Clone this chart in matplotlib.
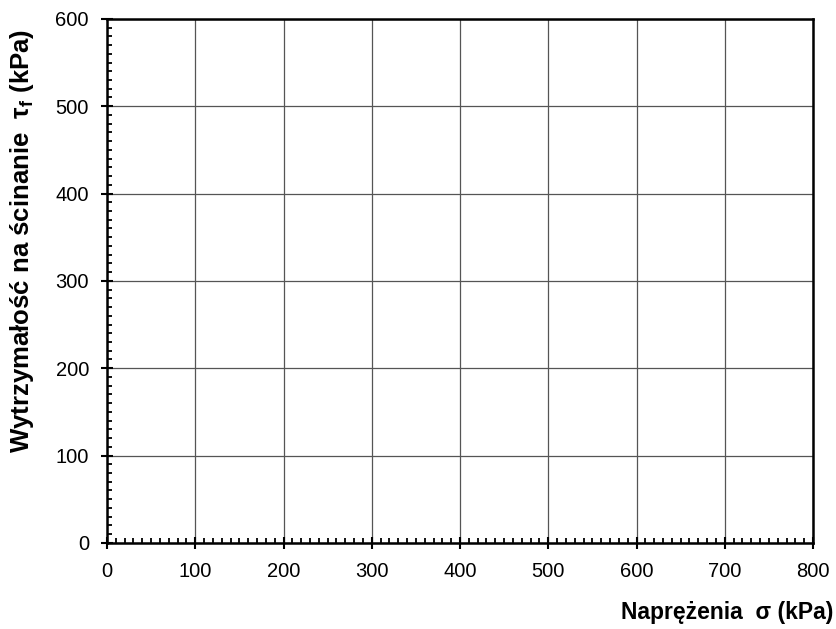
import matplotlib.pyplot as plt
from matplotlib.ticker import MultipleLocator

plt.rcParams['font.family'] = ['Liberation Sans', 'DejaVu Sans']
plt.rcParams['mathtext.fontset'] = 'custom'
plt.rcParams['mathtext.rm'] = 'Liberation Sans:bold'

# axis ranges and ticks (chart has no plotted series)
x_lim = [0, 800]
y_lim = [0, 600]
x_ticks = [0, 100, 200, 300, 400, 500, 600, 700, 800]
y_ticks = [0, 100, 200, 300, 400, 500, 600]
sigma = []   # normal stress (kPa) - empty
tau = []     # shear strength (kPa) - empty

fig = plt.figure(figsize=(8.36, 6.29), dpi=100)
ax = fig.add_axes([0.128, 0.137, 0.8445, 0.833])
ax.plot(sigma, tau, 'ko')

ax.set_xlim(x_lim)
ax.set_ylim(y_lim)
ax.set_xticks(x_ticks)
ax.set_yticks(y_ticks)
ax.xaxis.set_minor_locator(MultipleLocator(10))
ax.yaxis.set_minor_locator(MultipleLocator(10))

ax.grid(True, which='major', color='#555555', linewidth=0.9)
ax.set_axisbelow(True)
for s in ax.spines.values():
    s.set_linewidth(1.8)
    s.set_color('black')

ax.tick_params(which='major', direction='inout', length=8, width=1.5,
               labelsize=14.5)
ax.tick_params(axis='x', which='major', pad=10)
ax.tick_params(axis='y', which='major', pad=9)
ax.tick_params(which='minor', direction='in', length=3.5, width=1.3)

ax.text(0.997, 0.027, 'Naprężenia  σ (kPa)', transform=fig.transFigure,
        ha='right', va='center', fontsize=16.5, fontweight='bold')
ax.text(0.026, 0.617, 'Wytrzymałość na ścinanie  τ$_\\mathrm{f}$ (kPa)',
        transform=fig.transFigure, rotation=90, ha='center', va='center',
        fontsize=18.5, fontweight='bold')

fig.savefig('out.png', dpi=100)
